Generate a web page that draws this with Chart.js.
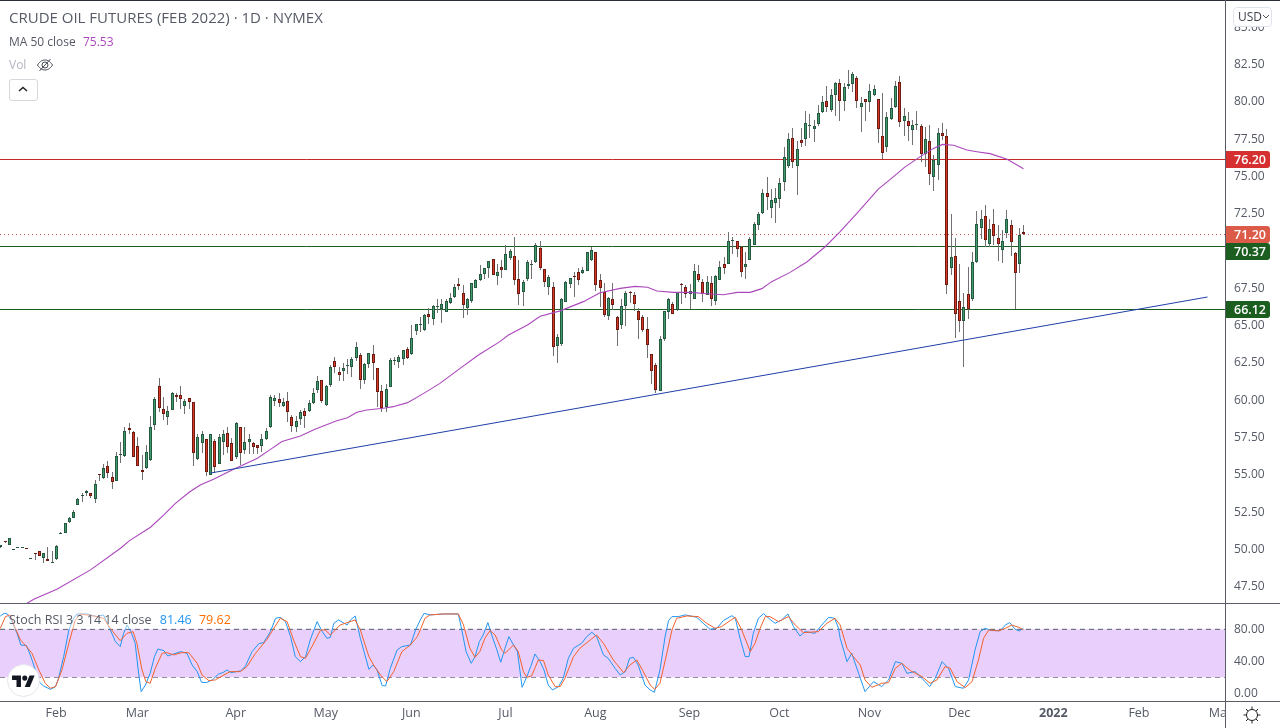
<!DOCTYPE html>
<html>
<head>
<meta charset="utf-8">
<title>Crude Oil Futures</title>
<script src="https://cdn.jsdelivr.net/npm/chart.js@4"></script>
<style>
html, body { margin: 0; padding: 0; background: #fff; overflow: hidden; }
#wrap { position: relative; width: 1280px; height: 728px; font-family: "Open Sans", sans-serif; color: #555a66; }
canvas { position: absolute; left: 0; display: block; }
#main { top: 0; }
#sub { top: 603px; }
.abs { position: absolute; white-space: nowrap; }
.rule { position: absolute; background: #5a5d66; }
</style>
</head>
<body>
<div id="wrap">
  <canvas id="main" width="1280" height="603"></canvas>
  <canvas id="sub" width="1280" height="125"></canvas>

  <div class="rule" style="left:0;top:0;width:1280px;height:1px;background:#2a2e39"></div>
  <div class="rule" style="left:0;top:603px;width:1280px;height:1px"></div>
  <div class="rule" style="left:0;top:701px;width:1280px;height:1px"></div>
  <div class="abs" style="left:1226px;top:702px;width:54px;height:26px;background:#fff"></div>
  <div class="rule" style="left:1225px;top:0;width:1px;height:728px"></div>

  <div class="abs" style="left:9px;top:8px;font-size:15px;line-height:19px">CRUDE OIL FUTURES (FEB 2022) · 1D · NYMEX</div>
  <div class="abs" style="left:9px;top:33px;font-size:12px;line-height:18px">MA 50 close <span style="color:#ab47bc;margin-left:4px">75.53</span></div>
  <div class="abs" style="left:9px;top:56px;font-size:12px;line-height:18px;color:#b2b5be">Vol</div>
  <svg class="abs" style="left:36px;top:56px" width="18" height="18" viewBox="0 0 18 18" fill="none" stroke="#4a4e59" stroke-width="1">
    <path d="M1.5 9 C4 5.2 6.5 4 9 4 C11.5 4 14 5.2 16.5 9 C14 12.8 11.5 14 9 14 C6.5 14 4 12.8 1.5 9Z"/>
    <circle cx="9" cy="9" r="3"/><path d="M3.5 15 L14.5 3"/>
  </svg>
  <div class="abs" style="left:9px;top:79px;width:27px;height:20px;border:1px solid #d6d8de;border-radius:3px;background:#fff"></div>
  <svg class="abs" style="left:17px;top:85px" width="12" height="8" viewBox="0 0 12 8" fill="none" stroke="#222" stroke-width="1.5"><path d="M2 6 L6 2.5 L10 6"/></svg>

  <div class="abs" style="left:1233px;top:7px;width:37px;height:18px;border:1px solid #e0e3eb;border-radius:4px;background:#fff;font-size:12px;line-height:18px;color:#3b3f4a;text-indent:4px">USD</div>
  <svg class="abs" style="left:1262px;top:13px" width="8" height="7" viewBox="0 0 8 7" fill="none" stroke="#555" stroke-width="1"><path d="M1 2 L4 5 L7 2"/></svg>

  <div class="abs" style="left:9px;top:611px;font-size:12.5px;line-height:18px;background:rgba(255,255,255,.45);padding-right:3px">Stoch RSI 3 3 14 14 close <span style="color:#2196f3;margin-left:5px">81.46</span> <span style="color:#ff6d00;margin-left:4px">79.62</span></div>

  <div class="abs" style="left:7px;top:664px;width:31px;height:31px;border:1px solid #e3e5ea;border-radius:50%;background:#fff"></div>
  <svg class="abs" style="left:12px;top:673px" width="23" height="14" viewBox="0 0 36 22" fill="#131722">
    <path d="M14 22H7V11H0V4h14v18z"/><path d="M28 22h-8l7.5-18h8L28 22z"/><circle cx="20" cy="8" r="4"/>
  </svg>

  <svg class="abs" style="left:1243px;top:706px" width="18" height="18" viewBox="0 0 18 18" fill="none" stroke="#222" stroke-width="1">
    <circle cx="9" cy="9" r="5.5"/>
    <path d="M9 0.5V3.5M9 14.5V17.5M0.5 9H3.5M14.5 9H17.5M3 3L5 5M13 13L15 15M15 3L13 5M5 13L3 15"/>
  </svg>
</div>

<script>
const opens = [
  50.2, 50.6, 50.35, 50.02, 50.15, 50.15, 50.12, 49.42, 49.82, 49.9,
  49.48, 49.37, 49.15, 49.37, 51.09, 51.16, 51.89, 52.16, 53.03, 53.64,
  53.82, 53.79, 53.44, 55.09, 54.8, 55.6, 54.87, 54.64, 56.38, 56.3,
  58.17, 57.9, 56.94, 55.36, 55.47, 56.0, 58.35, 60.97, 59.42, 58.93,
  59.4, 60.38, 60.36, 59.67, 60.16, 59.9, 56.12, 57.19, 57.41, 55.05,
  57.28, 55.78, 57.26, 57.81, 57.14, 56.25, 58.22, 56.72, 57.21, 57.19,
  57.01, 56.99, 57.41, 58.22, 59.96, 60.1, 59.67, 59.96, 58.9, 58.26,
  58.8, 59.29, 59.33, 59.82, 60.74, 61.36, 59.71, 61.07, 62.64, 61.9,
  62.01, 62.3, 62.28, 62.88, 63.04, 61.41, 62.48, 63.11, 62.17, 60.63,
  59.6, 60.94, 62.68, 62.62, 62.82, 63.44, 63.11, 64.65, 65.08, 64.72,
  65.81, 65.45, 66.28, 66.12, 65.97, 66.52, 66.93, 67.82, 67.2, 66.23,
  66.7, 67.57, 68.07, 68.51, 68.92, 69.47, 68.38, 68.94, 68.78, 69.59,
  69.67, 68.13, 67.26, 68.18, 69.12, 69.32, 70.21, 68.8, 67.64, 67.6,
  63.67, 63.82, 66.64, 67.8, 68.33, 68.6, 68.54, 68.71, 69.45, 69.94,
  68.07, 67.26, 65.7, 66.79, 65.59, 65.09, 66.37, 67.26, 67.06, 65.99,
  65.59, 64.78, 63.11, 62.37, 60.67, 64.13, 65.97, 66.46, 66.05, 67.8,
  67.6, 67.17, 66.84, 68.47, 67.93, 67.1, 67.86, 66.7, 68.11, 69.14,
  69.18, 70.7, 70.68, 70.3, 68.98, 69.43, 70.46, 71.8, 72.56, 73.9,
  72.89, 73.27, 73.54, 74.68, 75.7, 77.58, 75.7, 77.45, 77.56, 78.42,
  78.23, 78.52, 79.37, 80.06, 79.5, 80.47, 81.27, 80.06, 81.1, 81.25,
  81.6, 79.71, 80.2, 80.0, 80.51, 80.2, 77.72, 77.03, 78.86, 79.71,
  81.34, 78.77, 78.72, 78.17, 78.5, 78.39, 76.56, 77.38, 75.0, 75.82,
  77.92, 77.72, 68.91, 69.67, 66.66, 65.36, 67.13, 66.84, 69.27, 71.6,
  72.35, 70.52, 71.82, 70.88, 70.12, 71.24, 71.75, 69.87, 69.18, 71.28
];
const highs = [
  50.35, 50.62, 50.82, 50.06, 50.19, 50.19, 50.12, 49.46, 49.82, 49.92,
  49.78, 50.2, 49.93, 50.3, 51.2, 51.82, 52.2, 52.68, 53.5, 53.8,
  54.02, 53.82, 54.66, 55.09, 55.76, 55.96, 55.25, 56.54, 57.23, 58.24,
  58.49, 57.95, 57.55, 56.36, 57.03, 58.98, 60.27, 61.5, 60.25, 59.65,
  60.6, 60.54, 60.99, 60.12, 60.18, 59.92, 57.77, 58.0, 57.45, 57.78,
  57.42, 57.77, 58.04, 58.24, 57.48, 58.56, 58.25, 58.22, 57.8, 57.22,
  57.05, 57.77, 58.2, 60.38, 60.38, 60.52, 60.2, 60.58, 59.05, 58.98,
  59.35, 59.5, 60.05, 60.83, 61.65, 61.38, 61.05, 62.39, 62.95, 62.28,
  62.5, 62.77, 62.95, 63.91, 63.2, 62.5, 63.2, 63.73, 62.2, 61.05,
  61.12, 62.84, 62.95, 63.06, 63.4, 63.62, 65.07, 65.15, 65.59, 65.81,
  66.2, 66.44, 66.82, 66.82, 66.82, 67.2, 67.82, 68.22, 67.75, 66.9,
  67.9, 68.13, 69.09, 68.9, 69.36, 69.5, 69.14, 69.43, 70.43, 70.17,
  70.95, 69.43, 68.09, 69.43, 69.43, 70.55, 70.7, 68.85, 68.42, 67.95,
  64.47, 66.85, 68.0, 68.25, 68.65, 68.9, 68.98, 69.94, 70.32, 69.96,
  68.49, 67.86, 66.93, 67.86, 65.7, 66.81, 67.37, 67.37, 67.26, 66.19,
  65.74, 65.59, 63.15, 62.5, 64.33, 66.0, 66.85, 66.64, 67.3, 67.86,
  67.78, 67.82, 69.16, 69.09, 68.16, 68.38, 68.38, 68.42, 69.36, 69.65,
  71.28, 70.95, 70.7, 70.35, 69.96, 70.95, 72.0, 72.67, 74.17, 74.99,
  74.17, 74.23, 74.9, 76.98, 77.92, 78.25, 77.4, 78.25, 79.42, 79.2,
  78.81, 79.82, 80.44, 81.09, 80.89, 81.36, 81.56, 81.31, 82.16, 82.0,
  81.76, 80.33, 80.25, 81.23, 81.16, 80.25, 80.6, 79.35, 80.26, 81.43,
  81.76, 79.6, 79.37, 78.81, 79.42, 78.54, 78.32, 78.48, 76.47, 78.25,
  78.59, 78.2, 72.51, 70.88, 69.16, 67.2, 68.96, 69.96, 72.71, 72.78,
  73.11, 72.18, 72.85, 71.77, 71.44, 72.78, 72.1, 69.96, 71.6, 71.77
];
const lows = [
  50.15, 50.48, 50.33, 50.02, 50.15, 50.15, 50.08, 49.42, 49.3, 49.58,
  49.15, 49.24, 49.13, 49.35, 51.09, 51.14, 51.82, 52.14, 53.0, 53.23,
  53.64, 53.5, 53.17, 54.64, 54.73, 54.8, 54.1, 54.6, 55.85, 56.25,
  57.77, 56.22, 55.6, 54.69, 55.45, 55.98, 58.04, 59.22, 58.71, 58.4,
  59.38, 59.9, 59.45, 59.11, 59.45, 55.63, 56.03, 56.52, 54.98, 55.02,
  55.13, 55.75, 56.36, 56.52, 55.95, 56.08, 55.69, 56.43, 56.43, 56.43,
  56.43, 56.59, 57.38, 58.2, 59.65, 59.6, 59.6, 58.6, 57.9, 57.93,
  58.37, 58.15, 59.26, 59.78, 60.49, 59.87, 59.67, 60.94, 61.88, 61.34,
  61.34, 61.79, 61.61, 62.68, 60.8, 61.12, 62.19, 61.39, 59.6, 59.26,
  59.26, 60.9, 62.39, 62.21, 62.39, 62.8, 63.06, 64.4, 64.63, 64.7,
  65.14, 65.09, 65.9, 65.23, 65.95, 66.5, 66.9, 67.42, 65.56, 65.77,
  66.57, 67.55, 68.05, 68.16, 68.25, 68.42, 67.75, 68.2, 68.75, 69.4,
  67.75, 66.41, 66.37, 68.04, 68.13, 69.2, 68.76, 67.6, 67.08, 63.0,
  62.5, 63.69, 66.6, 67.57, 66.97, 67.78, 68.5, 68.68, 69.38, 67.37,
  66.3, 65.63, 65.41, 66.12, 63.69, 64.78, 65.03, 66.57, 66.03, 64.13,
  64.6, 62.88, 61.12, 60.54, 60.65, 64.02, 65.47, 65.8, 66.0, 66.48,
  66.9, 66.12, 66.8, 67.98, 66.64, 67.08, 66.35, 66.41, 68.08, 68.49,
  69.15, 69.83, 69.6, 68.27, 68.16, 69.4, 70.43, 71.44, 72.53, 72.78,
  72.22, 71.9, 72.94, 74.08, 75.6, 75.57, 73.79, 76.98, 77.1, 77.58,
  77.36, 78.41, 79.3, 79.37, 79.37, 79.1, 78.77, 79.44, 80.89, 80.71,
  79.6, 78.03, 78.77, 79.33, 80.4, 77.3, 76.18, 76.65, 78.8, 79.6,
  78.32, 77.74, 77.43, 77.14, 78.14, 76.02, 75.64, 74.46, 74.08, 74.79,
  77.5, 67.15, 68.45, 64.22, 64.63, 62.28, 65.5, 66.7, 69.2, 70.81,
  70.28, 70.28, 70.43, 69.38, 69.25, 70.93, 69.72, 66.12, 68.58, 71.1
];
const closes = [
  50.3, 50.5, 50.8, 50.06, 50.19, 50.19, 50.08, 49.46, 49.74, 49.6,
  49.76, 49.26, 49.19, 50.26, 51.13, 51.78, 52.14, 52.52, 53.41, 53.68,
  53.93, 53.64, 54.4, 55.05, 55.47, 55.18, 54.58, 56.27, 56.46, 58.0,
  58.06, 56.25, 55.65, 55.25, 56.54, 58.22, 60.09, 59.54, 59.09, 59.29,
  60.5, 60.27, 60.14, 59.96, 59.94, 56.52, 57.55, 57.75, 55.25, 57.75,
  55.58, 57.55, 57.75, 56.92, 55.98, 58.48, 56.47, 57.21, 57.41, 56.92,
  56.85, 57.41, 58.0, 60.23, 60.16, 59.87, 59.89, 59.27, 58.33, 58.62,
  59.22, 59.0, 59.82, 60.49, 61.3, 60.0, 60.96, 62.24, 62.28, 61.74,
  62.17, 62.34, 62.77, 63.58, 61.36, 62.48, 63.17, 62.55, 60.6, 59.49,
  60.76, 62.7, 62.72, 62.93, 63.37, 62.84, 64.18, 65.12, 65.12, 65.72,
  65.63, 66.32, 66.32, 66.48, 66.66, 66.86, 67.6, 67.71, 66.44, 66.79,
  67.87, 68.07, 68.47, 68.87, 69.34, 68.45, 68.63, 68.78, 69.83, 70.01,
  68.09, 67.17, 67.95, 69.27, 69.16, 70.43, 68.87, 67.93, 68.27, 63.57,
  64.25, 66.8, 67.93, 68.2, 68.29, 68.11, 68.74, 69.94, 70.08, 67.78,
  67.57, 65.76, 66.88, 66.43, 64.76, 66.32, 67.2, 67.22, 66.5, 65.43,
  64.76, 63.75, 62.01, 60.72, 64.11, 65.99, 66.81, 65.83, 67.26, 67.76,
  67.17, 67.33, 68.67, 68.11, 67.17, 67.93, 66.84, 68.33, 68.94, 68.91,
  70.68, 70.74, 70.19, 68.65, 69.14, 70.81, 71.84, 72.51, 73.9, 73.67,
  73.43, 73.56, 74.59, 76.31, 77.52, 76.02, 76.85, 77.3, 78.59, 78.46,
  78.41, 79.26, 79.99, 79.7, 80.47, 81.27, 80.11, 81.0, 81.2, 81.87,
  80.06, 79.93, 80.0, 80.74, 80.87, 78.19, 76.58, 79.0, 79.6, 81.07,
  78.7, 79.06, 78.43, 78.46, 78.54, 76.56, 77.52, 75.22, 76.11, 77.92,
  77.76, 67.77, 69.61, 65.83, 65.36, 66.26, 66.12, 69.27, 71.82, 72.15,
  70.79, 71.48, 71.06, 70.52, 70.68, 72.15, 70.66, 68.58, 71.08, 71.2
];

const maBars = [6, 7.8, 13.2, 21, 28, 30, 35, 38.2, 40.9, 44, 46.7, 49.8, 54.5, 60, 63.1, 65.8, 70.1, 73.5, 78.6, 81.1,
  83.3, 85.6, 89.5, 91.8, 95, 98.9, 102.7, 107.4, 111.7, 116.7, 118.7, 123, 126.1, 130.8, 136.2, 140.1, 144.8, 148.3,
  151, 153.4, 157.3, 161.1, 165, 168.9, 172, 175.2, 177.9, 180.2, 184.5, 188.4, 192.7, 196.2, 200.1, 203.2, 205.1,
  207.9, 211, 214.9, 218, 220, 222.7, 225.8, 228.1, 231.2, 235.2, 239];
const maValues = [46.4, 46.69, 47.36, 48.66, 50.11, 50.62, 51.52, 52.34, 53.12, 53.88, 54.35, 54.73, 55.4, 56.14, 56.74, 57.26, 57.64, 58.08, 58.66, 58.86,
  59.22, 59.38, 59.49, 59.6, 59.87, 60.49, 61.16, 62.17, 63.06, 63.96, 64.4, 65.07, 65.66, 66.02, 66.64, 67.24, 67.53, 67.66,
  67.6, 67.35, 67.26, 67.26, 67.17, 67.1, 67.26, 67.26, 67.51, 67.98, 68.6, 69.3, 70.32, 71.33, 72.55, 73.56, 74.18,
  74.83, 75.64, 76.36, 76.91, 77.18, 77.12, 76.8, 76.69, 76.56, 76.18, 75.55];

const kBars = [0, .9, 1.7, 2.7, 3.9, 4.8, 6.1, 7, 7.8, 9, 10.1, 11.7, 12.9, 13.6, 14.8, 16, 17.1, 17.9, 20.2, 22.6, 24.1, 25.7, 26.9, 28, 28.8, 29.6, 30.5, 31.5, 32.3, 32.9,
  33.9, 35, 36, 36.8, 38.2, 39.1, 40.5, 42.1, 43.6, 44.8, 46, 47, 48.1, 49.5, 51, 52, 53, 53.9, 56.1, 57.2, 58.8, 60.4, 61.5, 63.1, 64.3, 65.4, 66.6, 67.8, 68.9, 70.1,
  71.3, 72.4, 74, 75.2, 76.3, 77.1, 77.9, 79, 81, 81.8, 82.9, 84.1, 86.1, 87.1, 88, 89.2, 90, 91.1, 92.7, 93.8, 95.8, 97, 98.1,
  99, 100.4, 103.5, 107, 107.8, 108.8, 110, 110.9, 111.9, 112.8, 113.9, 114.8, 116, 116.9, 117.9, 118.8, 119.9, 120.8, 121.9, 123, 123.9, 124.9, 126.1, 127, 128, 129,
  130.4, 131.5, 132.7, 133.9, 135.8, 137, 138.2, 139.3, 140.9, 142, 143.6, 144.8, 146, 147, 147.9, 149, 150.6, 151.8, 152.8, 154.1, 155.3, 156.1, 156.9, 158.4, 160,
  162.7, 164.2, 165.8, 167.4, 168.9, 170.9, 171.7, 172.8, 174, 174.9, 175.9, 177.1, 178.3, 179.8, 181, 182.5, 184, 185.3, 186.8, 188, 190.3, 191.9, 193.5, 194.9, 195.8,
  196.2, 197.8, 198.9, 200.5, 202, 204, 205.9, 207.5, 209.1, 210.6, 211.8, 213.7, 215.3, 217.1, 218.4, 220, 221.5, 223.1, 225, 226.2, 227.7, 228.9, 230.1, 231.6, 233.6, 234.8, 235.8, 237.1, 238.1, 239];
const kValues = [96.7, 100, 99, 89.6, 75, 60.4, 59.6, 48, 35.4, 14.6, 9.2, 5, 8.4, 18.8, 45.9, 79.2, 93.8, 99.2, 99.2, 95.9, 98, 79.2, 64.6, 58.4, 75, 85.4, 77.1, 62.5, 25, 2.1,
  10.4, 25, 45.9, 55.4, 53.4, 46.7, 49.2, 52.1, 50, 35.4, 27.1, 13.8, 13.4, 16.7, 24.2, 25.9, 29.2, 25.9, 28, 33.4, 52.1, 62.1, 63.4, 77.1, 93.8, 95, 89.6, 70.9, 45.9, 39.6,
  45.9, 66.7, 89.6, 77.1, 68.8, 70, 87.5, 91.7, 85.4, 91.7, 96.7, 68.8, 30, 35.4, 29.2, 9.6, 9.2, 31.3, 54.2, 58.4, 60.4, 79.2, 91.7,
  100, 98, 99.2, 99.2, 79.2, 52.1, 37.5, 45.9, 64.6, 72.9, 88.4, 72.9, 54.2, 38.8, 56.3, 70.9, 60.4, 52.1, 7.5, 20.9, 33.4, 49.2, 39.6, 29.2, 10.4, 4.2,
  8.4, 18.8, 43.8, 56.3, 62.5, 70.9, 76.3, 70.9, 48, 43.8, 31.3, 23, 27.1, 43.8, 45, 35.4, 10.4, 4.2, 1.3, 29.2, 70.9, 90.9, 95.9, 95.9, 98,
  95, 87.5, 80, 81.3, 90.9, 97.1, 93.8, 68.8, 45.9, 45.9, 75, 93.8, 99.6, 92.5, 87.5, 91.7, 99.2, 83.4, 71.7, 77.1, 75, 85.4, 95, 93.8, 81.3,
  68.8, 39.6, 50, 25, 2.1, 14.6, 8.4, 16.7, 39.6, 37.5, 25, 27.1, 18.8, 8.4, 18.8, 39.6, 31.3, 8.4, 6.3, 16.7, 54.2, 77.1, 81.3, 78.4, 78.4, 85.4, 88.4, 80, 77.9, 81.46];

const dBars = [0, 1.2, 2.3, 3.5, 4.7, 5.8, 7.4, 9, 10.5, 11.7, 12.9, 14.4, 16, 17.5, 18.7, 21.8, 24.1, 25.7, 26.9, 28, 29.6, 31, 31.9, 33.1, 34, 35, 36.2, 37.8, 38.9, 40.5,
  42.4, 44, 46, 47.1, 48.7, 50.2, 51.8, 53.7, 56.1, 57.6, 59.6, 62.3, 63.9, 65.4, 67, 68.5, 70.1, 71.3, 72.8, 74.8, 75.9, 77.1, 79.4, 81, 82.9, 84.1, 86.1, 87.2, 88.8, 90.3,
  91.9, 93.8, 95.8, 97.4, 98.1,
  99.2, 100.4, 103.5, 107, 108.2, 109.7, 110.9, 112, 113.2, 114.4, 115.6, 117.1, 117.9, 119.9, 121, 122.2, 123, 124.1, 125.7, 126.9, 128, 129.6, 130.8, 131.9, 133.9, 135.4,
  137.8, 139.3, 140.9, 143.2, 145.6, 147.1, 148.7, 150.2, 151.8, 152.9, 154.1, 155.7, 156.9, 158, 160.4, 163.1, 165, 167, 168.5, 170.5, 171.7, 173.2, 175.2, 176.3, 177.5, 178.7,
  179.8, 181.8, 184.1, 185.7, 187.6, 191.1, 193.1, 195,
  196.2, 197.8, 199.3, 200.9, 202, 203.6, 205.9, 207.5, 209.1, 210.6, 212.6, 215.3, 217.2, 218.8, 220.7, 221.9, 223.5, 225.4, 227, 228.5, 229.7, 230.9, 233.2, 234.8, 236.3, 237.9, 239];
const dValues = [81.3, 95.9, 98, 81.3, 66.7, 60.4, 50, 29.2, 12.5, 6.3, 8.4, 29.2, 62.5, 91.7, 99.2, 96.7, 93.8, 81.3, 72.9, 65.9, 75, 77.1, 62.5, 29.2, 14.6, 12.5, 31.3, 50, 50.9, 48,
  50.9, 50.9, 37.5, 23, 15.9, 16.7, 21.7, 27.1, 27.1, 33.4, 50, 67.5, 81.3, 93.8, 89.6, 66.7, 45.9, 43.8, 58.4, 79.2, 79.2, 72.9, 85.4, 88.4, 91.7, 79.2, 45.9, 35.4, 22.9, 14.6,
  27.1, 52.1, 60.4, 70.9, 79.2,
  93.8, 98, 99.2, 99.2, 85.4, 56.3, 45, 52.1, 68.8, 78.4, 72.9, 54.2, 50, 60.4, 52.1, 27.1, 20, 21.7, 41.7, 40.9, 23, 8.4, 8.4, 18.8, 45.9, 56.3,
  66.7, 72.9, 62.5, 41.7, 25.9, 35.4, 41.7, 27.1, 10.4, 5, 12.5, 50, 79.2, 93.8, 96.7, 95.9, 87.5, 81.3, 83.4, 90.9, 95, 79.2, 52.1, 62.5, 81.3, 95.9,
  95.9, 89.6, 95.9, 85.4, 75.9, 77.1, 87.5, 93.8,
  85.4, 56.3, 45.9, 35.4, 16.7, 7.5, 12.5, 13.4, 31.3, 37.5, 28.4, 20.9, 12.5, 16.7, 33.4, 31.3, 14.6, 7.1, 14.6, 41.7, 68.8, 79.2, 78, 81.3, 85.4, 82.5, 79.62];

const monthBars = [13, 32, 55, 76, 96, 118, 139, 161, 182, 203, 224, 246, 266, 285];
const monthLabels = ['Feb', 'Mar', 'Apr', 'May', 'Jun', 'Jul', 'Aug', 'Sep', 'Oct', 'Nov', 'Dec', '2022', 'Feb', 'Mar'];
const stochTicks = [0, 40, 80];
const levelUpper = 76.20;
const levelLast = 71.20;
const levelMid = 70.37;
const levelLower = 66.12;
const trendBars = [49, 282];
const trendValues = [55.15, 66.95];
const stochUpper = 80;
const stochLower = 20;

const FONT = '"Open Sans", sans-serif';
const TEXT = '#555a66';
Chart.defaults.font.family = FONT;
Chart.defaults.animation = false;
Chart.defaults.devicePixelRatio = 1;

const xMin = -0.08, xMax = 286.1;
const levels = [levelUpper, levelLast, levelMid, levelLower];

// TradingView snaps bars to whole pixels, so do the same on the scales
function snapX(scale) {
    const orig = scale.getPixelForValue.bind(scale);
    scale.getPixelForValue = v => Number.isInteger(v) ? Math.round(orig(v)) + 0.5 : orig(v);
}
function snapBars(scale) {
    const orig = scale.getPixelForValue.bind(scale);
    scale.getPixelForValue = v => Math.round(orig(v));
}
function snapLevels(scale) {
    const orig = scale.getPixelForValue.bind(scale);
    scale.getPixelForValue = v => levels.includes(v) ? Math.round(orig(v)) + 0.5 : orig(v);
}
function noPad(s) {
    s.paddingTop = 0; s.paddingBottom = 0; s.paddingLeft = 0; s.paddingRight = 0;
}

function hLine(value, color, dash) {
    return {
        type: 'line', yAxisID: 'yLine', order: 5,
        data: [{x: xMin, y: value}, {x: xMax, y: value}],
        borderColor: color, borderWidth: 1, borderDash: dash || [], pointRadius: 0
    };
}

const wickData = highs.map((h, i) => ({x: i, y: [lows[i], h]}));
const bodyData = opens.map((o, i) => ({x: i, y: [o, closes[i]]}));
const up = i => closes[i] >= opens[i];

const priceTags = {
    id: 'priceTags',
    afterDraw(chart) {
        const {ctx, scales} = chart;
        const tags = [
            [levelUpper, '#d62f2f', 0],
            [levelLast, '#dc5a48', 0],
            [levelMid, '#1b5e20', 5],
            [levelLower, '#1b5e20', 0]
        ];
        ctx.save();
        tags.forEach(([value, color, shift]) => {
            const y = Math.round(scales.y.getPixelForValue(value)) + shift;
            ctx.fillStyle = color;
            ctx.beginPath();
            ctx.roundRect(1226, y - 8, 44, 17, [0, 3, 3, 0]);
            ctx.fill();
            ctx.fillStyle = '#fff';
            ctx.font = '600 12.5px ' + FONT;
            ctx.textBaseline = 'middle';
            ctx.fillText(value.toFixed(2), 1234, y + 1);
        });
        ctx.restore();
    }
};

new Chart(document.getElementById('main'), {
    data: {
        datasets: [
            hLine(levelUpper, '#c62828'),
            hLine(levelMid, '#1b5e20'),
            hLine(levelLower, '#1b5e20'),
            hLine(levelLast, '#d9574a', [1, 3]),
            {
                type: 'bar', order: 4, data: wickData, barThickness: 1, grouped: false,
                backgroundColor: '#707070', inflateAmount: 0
            },
            {
                type: 'bar', order: 3, data: bodyData, barThickness: 3, grouped: false, minBarLength: 1,
                backgroundColor: c => up(c.dataIndex) ? '#3f9a6e' : '#d63a26',
                borderColor: c => up(c.dataIndex) ? '#24593f' : '#6d1b12',
                borderWidth: 1, borderSkipped: false, inflateAmount: 0
            },
            {
                type: 'line', yAxisID: 'yLine', order: 2, borderColor: '#ab47bc', borderWidth: 1.1, pointRadius: 0,
                data: maBars.map((b, i) => ({x: b, y: maValues[i]}))
            },
            {
                type: 'line', yAxisID: 'yLine', order: 1, borderColor: '#1e3fa8', borderWidth: 1, pointRadius: 0,
                data: trendBars.map((b, i) => ({x: b, y: trendValues[i]}))
            }
        ]
    },
    options: {
        responsive: false,
        layout: {padding: 0},
        plugins: {legend: {display: false}, tooltip: {enabled: false}},
        scales: {
            x: {type: 'linear', min: xMin, max: xMax, display: false, offset: false, afterUpdate: snapX},
            y: {
                position: 'right', min: 46.44, max: 86.857,
                grid: {display: false, drawTicks: false},
                border: {display: false},
                ticks: {
                    stepSize: 2.5, includeBounds: false, padding: 9,
                    color: TEXT, font: {size: 12}, crossAlign: 'near',
                    callback: v => v.toFixed(2)
                },
                afterFit: s => { s.width = 55; noPad(s); },
                afterUpdate: snapBars
            },
            yLine: {display: false, min: 46.44, max: 86.857, afterFit: noPad, afterUpdate: snapLevels}
        }
    },
    plugins: [priceTags]
});

new Chart(document.getElementById('sub'), {
    data: {
        datasets: [
            {
                type: 'line', order: 3, pointRadius: 0, borderColor: '#555a66', borderWidth: 1, borderDash: [5, 4],
                data: [{x: xMin, y: stochUpper}, {x: xMax, y: stochUpper}],
                fill: '+1', backgroundColor: '#e9cffc'
            },
            {
                type: 'line', order: 3, pointRadius: 0, borderColor: '#555a66', borderWidth: 1, borderDash: [5, 4],
                data: [{x: xMin, y: stochLower}, {x: xMax, y: stochLower}]
            },
            {
                type: 'line', order: 2, pointRadius: 0, borderColor: '#2196f3', borderWidth: 1,
                data: kBars.map((b, i) => ({x: b, y: kValues[i]}))
            },
            {
                type: 'line', order: 1, pointRadius: 0, borderColor: '#f4622b', borderWidth: 1,
                data: dBars.map((b, i) => ({x: b, y: dValues[i]}))
            }
        ]
    },
    options: {
        responsive: false,
        layout: {padding: 0},
        plugins: {legend: {display: false}, tooltip: {enabled: false}},
        scales: {
            x: {
                type: 'linear', min: xMin, max: xMax, offset: false,
                grid: {display: false, drawTicks: false},
                border: {display: false},
                afterBuildTicks: s => { s.ticks = monthBars.map(value => ({value})); },
                afterFit: s => { s.height = 27; noPad(s); },
                ticks: {
                    autoSkip: false, maxRotation: 0, padding: 5, color: TEXT,
                    font: c => ({size: 12.5, weight: monthLabels[monthBars.indexOf(c.tick && c.tick.value)] === '2022' ? '700' : '400'}),
                    callback: v => monthLabels[monthBars.indexOf(v)]
                }
            },
            y: {
                position: 'right', min: -9.6, max: 112.9,
                grid: {display: false, drawTicks: false},
                border: {display: false},
                afterBuildTicks: s => { s.ticks = stochTicks.map(value => ({value})); },
                afterFit: s => { s.width = 55; noPad(s); },
                ticks: {padding: 9, color: TEXT, font: {size: 12}, crossAlign: 'near', callback: v => v.toFixed(2)}
            }
        }
    }
});
</script>
</body>
</html>
